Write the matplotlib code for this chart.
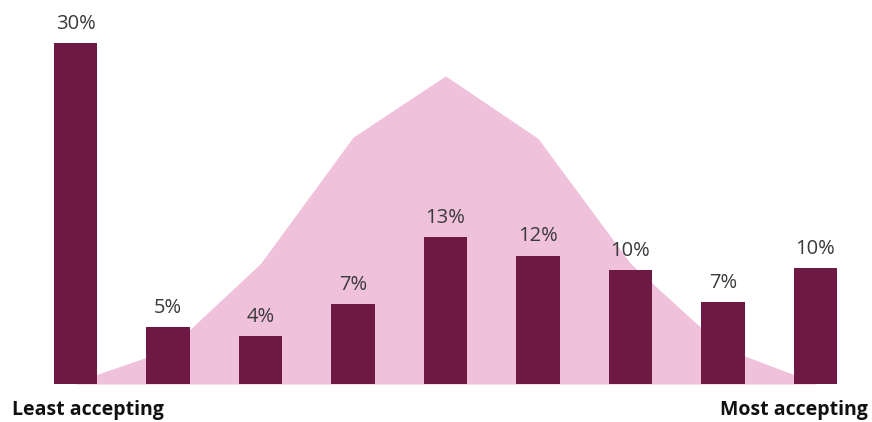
import matplotlib
matplotlib.use("Agg")
import matplotlib.pyplot as plt

# Data
categories = list(range(1, 10))
bar_values = [30, 5, 4.2, 7, 12.9, 11.3, 10, 7.2, 10.2]
bar_labels = ["30%", "5%", "4%", "7%", "13%", "12%", "10%", "7%", "10%"]
area_values = [0.2, 3.0, 10.6, 21.7, 27.1, 21.6, 10.6, 3.2, 0.1]
left_label = "Least accepting"
right_label = "Most accepting"

BAR_COLOR = "#6E1943"
AREA_COLOR = "#EFC1DA"
TEXT_COLOR = "#3a3a3a"

plt.rcParams['font.family'] = ['Open Sans', 'DejaVu Sans']

fig = plt.figure(figsize=(8.72, 4.22), dpi=100)
ax = fig.add_axes([0, 38 / 422, 1, 1 - 38 / 422])

x = [c - 1 for c in categories]
ax.fill_between(x, 0, area_values, color=AREA_COLOR, linewidth=0, zorder=1)
bars = ax.bar(x, bar_values, width=0.465, color=BAR_COLOR, zorder=2)

for xi, v, lab in zip(x, bar_values, bar_labels):
    ax.annotate(lab, (xi, v), xytext=(0, 6.5), textcoords="offset points",
                ha="center", va="bottom", fontsize=14.5, color=TEXT_COLOR)

ax.set_xlim(-75.5 / 92.5, (872 - 75.5) / 92.5)
ax.set_ylim(0, 384 / 11.37)
ax.axis("off")

fig.text(12 / 872, 1 - 415 / 422, left_label, ha="left", va="baseline",
         fontsize=14, fontweight="bold", color="#111111")
fig.text(868 / 872, 1 - 415 / 422, right_label, ha="right", va="baseline",
         fontsize=14, fontweight="bold", color="#111111")

fig.savefig("out.png", dpi=100, facecolor="white")
